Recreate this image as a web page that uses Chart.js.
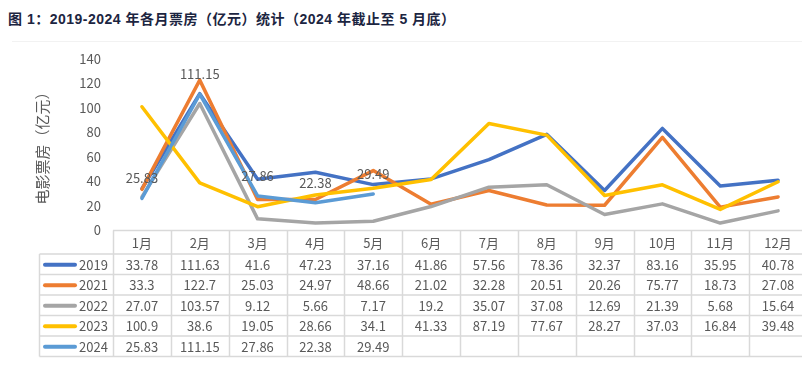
<!DOCTYPE html>
<html>
<head>
<meta charset="utf-8">
<script src="https://cdn.jsdelivr.net/npm/chart.js@4/dist/chart.umd.min.js"></script>
<style>
  html, body { margin: 0; padding: 0; background: #fff; overflow: hidden; width: 802px; height: 382px; }
  #title {
    position: absolute; left: 8px; top: 8px;
    font: bold 14px "Liberation Sans", "Noto Sans CJK SC", sans-serif;
    letter-spacing: 0.5px;
    color: #1c2541; white-space: nowrap;
  }
  #rule { position: absolute; left: 12px; top: 41px; width: 790px; height: 1px; background: #f2f2f2; }
  #chart { position: absolute; left: 0; top: 0; }
</style>
</head>
<body>
<div id="title">图 1：2019-2024 年各月票房（亿元）统计（2024 年截止至 5 月底）</div>
<div id="rule"></div>
<canvas id="chart" width="810" height="382" style="width:810px;height:382px"></canvas>
<script>
// months (categories)
const months = ['1月', '2月', '3月', '4月', '5月', '6月', '7月', '8月', '9月', '10月', '11月', '12月'];
const years = ['2019', '2021', '2022', '2023', '2024'];
const colors = ['#4472C4', '#ED7D31', '#A5A5A5', '#FFC000', '#5B9BD5'];

// monthly box office, 100M yuan
const v2019 = [33.78, 111.63, 41.6, 47.23, 37.16, 41.86, 57.56, 78.36, 32.37, 83.16, 35.95, 40.78];
const v2021 = [33.3, 122.7, 25.03, 24.97, 48.66, 21.02, 32.28, 20.51, 20.26, 75.77, 18.73, 27.08];
const v2022 = [27.07, 103.57, 9.12, 5.66, 7.17, 19.2, 35.07, 37.08, 12.69, 21.39, 5.68, 15.64];
const v2023 = [100.9, 38.6, 19.05, 28.66, 34.1, 41.33, 87.19, 77.67, 28.27, 37.03, 16.84, 39.48];
const v2024 = [25.83, 111.15, 27.86, 22.38, 29.49];

const yMin = 0, yMax = 140, yStep = 20;

const seriesValues = [v2019, v2021, v2022, v2023, v2024];
const FONT = '"Noto Sans CJK SC", "Noto Sans", sans-serif';
const TXT = '#595959';
const LINE = '#d9d9d9';

// data table under the plot, columns follow the x scale
const tablePlugin = {
    id: 'dataTable',
    afterDraw(chart) {
        const ctx = chart.ctx;
        const xs = chart.scales.x;
        const colW = (xs.right - xs.left) / months.length;
        const top = Math.round(chart.chartArea.bottom) + 0.5;
        const headH = 23.5, rowH = 20.5;
        const tableLeft = 39.5;
        const bottom = top + headH + rowH * years.length;

        ctx.save();
        ctx.strokeStyle = LINE;
        ctx.lineWidth = 1.5;
        // horizontal lines
        ctx.beginPath();
        ctx.moveTo(xs.left, top); ctx.lineTo(xs.right, top);
        for (let r = 0; r <= years.length; r++) {
            const y = top + headH + r * rowH;
            ctx.moveTo(tableLeft, y); ctx.lineTo(xs.right, y);
        }
        // vertical lines
        for (let c = 0; c <= months.length; c++) {
            const x = Math.round(xs.left + c * colW) + 0.5;
            ctx.moveTo(x, top); ctx.lineTo(x, bottom);
        }
        ctx.moveTo(tableLeft, top + headH); ctx.lineTo(tableLeft, bottom);
        ctx.stroke();

        ctx.font = '13px ' + FONT;
        ctx.fillStyle = TXT;
        ctx.textBaseline = 'middle';
        ctx.textAlign = 'center';
        months.forEach((m, i) => {
            ctx.fillText(m, xs.getPixelForValue(i), top + headH / 2 + 1);
        });
        years.forEach((yr, r) => {
            const cy = top + headH + rowH * r + rowH / 2 + 0.5;
            // legend key
            ctx.strokeStyle = colors[r];
            ctx.lineWidth = 4;
            ctx.lineCap = 'round';
            ctx.beginPath();
            ctx.moveTo(45, cy); ctx.lineTo(75, cy);
            ctx.stroke();
            ctx.textAlign = 'left';
            ctx.fillText(yr, 79, cy);
            ctx.textAlign = 'center';
            seriesValues[r].forEach((v, i) => {
                ctx.fillText(String(v), xs.getPixelForValue(i), cy);
            });
        });
        ctx.restore();
    }
};

// value labels on the 2024 line
const labelPlugin = {
    id: 'labels2024',
    afterDatasetsDraw(chart) {
        const ctx = chart.ctx;
        const meta = chart.getDatasetMeta(4);
        ctx.save();
        ctx.font = '13px ' + FONT;
        ctx.fillStyle = TXT;
        ctx.textAlign = 'center';
        ctx.textBaseline = 'middle';
        meta.data.forEach((pt, i) => {
            ctx.fillText(String(v2024[i]), pt.x, pt.y - 20);
        });
        ctx.restore();
    }
};

const datasets = years.map((yr, i) => ({
    label: yr,
    data: seriesValues[i],
    borderColor: colors[i],
    backgroundColor: colors[i],
    borderWidth: 3.5,
    pointRadius: 0,
    tension: 0,
    borderJoinStyle: 'round',
    borderCapStyle: 'round',
    order: years.length - i
}));

new Chart(document.getElementById('chart'), {
    type: 'line',
    data: { labels: months, datasets: datasets },
    options: {
        responsive: false,
        animation: false,
        devicePixelRatio: 1,
        layout: { padding: { left: 28, right: 3, top: 59, bottom: 152 } },
        plugins: {
            legend: { display: false },
            tooltip: { enabled: false }
        },
        scales: {
            x: {
                display: false,
                offset: true
            },
            y: {
                min: yMin,
                max: yMax,
                ticks: {
                    stepSize: yStep,
                    padding: 12,
                    color: TXT,
                    font: { family: FONT, size: 13 }
                },
                grid: { display: false, drawTicks: false },
                border: { display: false },
                title: {
                    display: true,
                    text: '电影票房（亿元）',
                    color: TXT,
                    font: { family: FONT, size: 15 },
                    padding: { top: 5, bottom: 0 }
                },
                afterFit(scale) { scale.width = 85; }
            }
        }
    },
    plugins: [tablePlugin, labelPlugin]
});
</script>
</body>
</html>
